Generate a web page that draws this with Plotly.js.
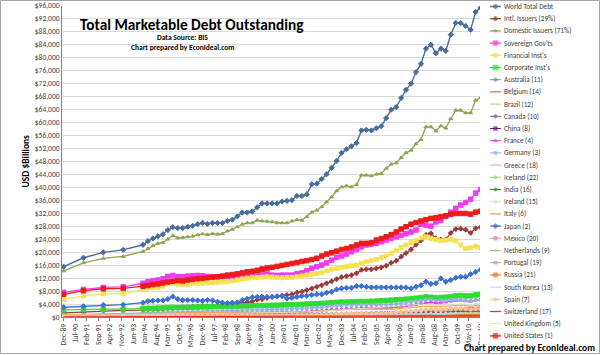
<!DOCTYPE html>
<html><head><meta charset="utf-8">
<script src="https://cdn.plot.ly/plotly-3.0.1.min.js"></script>
<style>html,body{margin:0;padding:0;background:#fff}</style>
</head><body><div id="chart" style="width:600px;height:355px"></div>
<script>
// ---- DATA (USD $Billions) ----
const dates = ["1989-12","1990-12","1991-12","1992-12",
"1993-12","1994-03","1994-06","1994-09","1994-12","1995-03","1995-06","1995-09","1995-12",
"1996-03","1996-06","1996-09","1996-12","1997-03","1997-06","1997-09","1997-12",
"1998-03","1998-06","1998-09","1998-12","1999-03","1999-06","1999-09","1999-12",
"2000-03","2000-06","2000-09","2000-12","2001-03","2001-06","2001-09","2001-12",
"2002-03","2002-06","2002-09","2002-12","2003-03","2003-06","2003-09","2003-12",
"2004-03","2004-06","2004-09","2004-12","2005-03","2005-06","2005-09","2005-12",
"2006-03","2006-06","2006-09","2006-12","2007-03","2007-06","2007-09","2007-12",
"2008-03","2008-06","2008-09","2008-12","2009-03","2009-06","2009-09","2009-12",
"2010-03","2010-06","2010-09","2010-12"];

const tickDates = ["1989-12","1990-07","1991-02","1991-09","1992-04","1992-11","1993-06","1994-01","1994-08","1995-03","1995-10","1996-05","1996-12","1997-07","1998-02","1998-09","1999-04","1999-11","2000-06","2001-01","2001-08","2002-03","2002-10","2003-05","2003-12","2004-07","2005-02","2005-09","2006-04","2006-11","2007-06","2008-01","2008-08","2009-03","2009-10","2010-05","2010-12"];

const worldTotal = [15500,18250,19900,20700,
22250,23400,24200,24900,25500,26800,27700,27400,27400,27800,28100,28600,
29000,28700,29000,29000,29000,29600,30000,31000,32200,32200,32500,33800,
35000,35000,35000,35000,35600,35800,36000,37300,37300,37800,40900,41100,
42500,44000,46000,48100,50600,51700,52600,53600,57500,57700,57500,58200,
58800,61300,63900,64700,67500,70000,71900,75500,78000,82700,83900,81300,
82700,82000,87000,90600,90600,89700,88500,94000,95300];
const intlIssuers = [1300,1550,1850,2050,
2100,2300,2300,2300,2500,2700,2700,2900,2950,3000,3100,3200,
3300,3300,3400,3500,3500,3600,3800,4000,4200,4500,4800,5300,
5500,5900,6200,6300,6500,6800,7000,7500,7800,8300,8800,9300,
9800,10400,11000,11700,12300,12600,12900,13500,14500,14700,14700,15000,
15300,15800,16700,17300,18600,19700,20800,22300,23600,25300,25800,24300,
23900,23900,25900,27100,27200,26900,25900,27300,27700];
const domesticIssuers = [14200,16700,18050,18650,
20200,21100,22000,22700,22900,24000,25100,24400,24500,24700,24900,25300,
25600,25400,25700,25500,25700,26500,27000,27800,28600,29000,29000,29800,
29600,29500,29300,29000,29000,29000,29600,30000,29800,30900,32300,32900,
34000,35500,37000,38900,40100,40400,40100,40800,43700,43700,43500,44000,
44200,45800,47100,47500,49100,50600,51400,53400,54700,58600,58600,57300,
58900,58200,61100,63700,63700,62900,62900,66800,67600];
const sovereignGovts = [7600,8500,9100,9300,
10400,10900,11200,11400,11800,12500,12800,12400,12400,12600,12700,12800,
12700,12500,12400,12400,12500,12400,12400,12600,12900,13000,13100,13300,
13400,13400,12900,12800,12900,12900,12900,13300,13600,14300,15000,15500,
16000,16700,17500,18400,18800,19400,20100,20800,21600,22200,22500,22700,
23200,23700,24200,24700,25200,25700,26200,26800,28600,28300,28000,29300,
29800,31000,32300,33500,34500,35300,36300,38200,39300];
const financialInsts = [5400,6500,7100,7100,
8500,8900,9100,9100,9500,10200,10400,10100,10000,10100,10300,10400,
10400,10500,10600,10700,10800,10900,11100,11400,11700,11900,12100,12200,
12300,12400,12300,12100,12100,12200,12200,12400,12600,12900,13200,13400,
13600,14200,14700,15000,15300,15500,15800,16000,16500,17000,17500,17700,
18400,18800,19600,20600,21400,22200,22900,23500,24400,24700,24200,23900,
23500,23700,23900,23500,22200,21100,21300,21800,21400];
const corporateInsts = [2200,2400,2400,2400,
2600,2700,2700,2750,2800,2900,2950,2900,2950,3000,3000,3050,
3100,3100,3150,3200,3200,3250,3300,3300,3400,3400,3450,3500,
3500,3550,3600,3650,3700,3750,3800,3850,3900,4000,4050,4100,
4200,4300,4400,4500,4600,4600,4650,4700,4800,4800,4850,4900,
5000,5100,5200,5300,5400,5500,5600,5800,6000,6200,6100,5900,
6000,6100,6300,6500,6600,6500,6500,6800,6900];
const australia = [120,130,140,150,
160,170,170,180,180,190,190,190,200,200,210,210,
210,220,220,230,230,230,220,220,230,240,250,260,
270,280,270,270,260,260,260,270,280,300,320,340,
360,390,420,450,480,500,510,520,560,580,590,600,
620,650,700,750,820,900,960,1020,1100,1150,1100,900,
880,1000,1150,1300,1400,1400,1350,1500,1600];
const belgium = [150,170,180,190,
200,210,210,220,230,240,250,250,260,260,270,270,
260,260,260,260,260,270,280,280,280,280,280,280,
280,280,270,260,260,270,270,270,280,300,320,340,
360,380,400,420,440,450,450,450,470,460,450,450,
440,450,460,470,490,510,530,550,580,620,630,590,
620,620,650,680,680,640,600,630,620];
const brazil = [40,60,80,100,
120,140,160,180,200,220,240,250,260,270,280,290,
300,310,320,330,340,350,360,370,300,320,340,360,
380,400,400,380,370,350,340,320,300,280,260,250,
260,300,330,360,380,400,420,440,480,520,560,600,
640,680,720,780,850,920,1000,1100,1200,1300,1250,1000,
1000,1100,1250,1350,1400,1400,1350,1450,1500];
const canada = [450,480,500,520,
540,550,560,570,580,600,610,610,620,630,640,640,
650,650,660,660,670,670,660,650,650,660,670,680,
690,690,700,700,700,710,710,720,720,740,760,780,
800,840,880,920,960,980,1000,1020,1050,1060,1080,1100,
1120,1150,1180,1200,1250,1300,1350,1400,1500,1550,1550,1350,
1300,1400,1600,1750,1800,1750,1700,1850,1900];
const china = [30,40,50,70,
90,100,110,120,130,140,150,160,170,180,190,200,
210,220,230,240,250,260,270,280,290,300,310,320,
330,340,350,360,370,380,390,400,420,440,460,480,
500,520,540,560,600,650,700,750,800,850,900,950,
1000,1050,1100,1150,1200,1250,1300,1400,1500,1650,1800,1900,
2000,2100,2150,2200,2250,2300,2350,2400,2500];
const france = [450,550,600,650,
700,750,780,800,850,900,950,920,950,980,1000,1020,
1000,1000,1020,1050,1100,1150,1200,1250,1300,1300,1300,1300,
1300,1300,1300,1300,1350,1400,1400,1450,1550,1650,1800,1900,
2000,2150,2300,2400,2500,2600,2600,2600,2800,2800,2800,2800,
2800,2900,3000,3100,3300,3500,3700,3900,4200,4500,4600,4400,
4500,4600,4900,5100,5200,5000,4800,5200,5300];
const germany = [650,800,900,1000,
1100,1150,1200,1250,1350,1450,1500,1500,1550,1600,1600,1650,
1600,1650,1700,1750,1850,1950,2000,2050,2150,2150,2200,2250,
2200,2250,2300,2350,2400,2450,2450,2500,2600,2700,2800,2900,
3000,3200,3400,3500,3600,3700,3700,3700,3800,3700,3800,3800,
3700,3800,3900,4000,4200,4400,4600,4800,5000,5300,5400,5100,
5100,5000,5300,5400,5300,5100,4900,5200,5300];
const greece = [30,40,50,60,
70,75,80,85,90,95,100,100,105,110,110,115,
120,120,125,125,130,130,135,135,140,140,140,145,
145,145,140,140,140,145,145,150,155,160,170,180,
190,200,215,225,235,245,250,255,265,265,265,265,
265,270,280,290,305,320,335,350,370,390,390,370,
380,390,410,420,420,400,380,380,360];
const iceland = [2,3,3,4,
4,4,4,5,5,5,5,5,5,6,6,6,
6,6,7,7,7,8,8,8,8,9,9,9,
10,10,10,11,11,11,12,12,13,14,15,16,
17,19,21,23,25,27,30,32,35,38,40,42,
45,48,52,56,60,64,66,68,70,60,40,20,
20,20,20,20,20,20,20,20,20];
const india = [40,45,50,55,
60,62,64,66,68,70,70,70,72,72,74,76,
78,80,82,84,86,88,90,92,95,98,100,104,
108,112,116,120,124,128,132,136,140,150,160,170,
180,190,200,210,220,230,240,250,260,270,280,290,
300,310,320,330,340,360,380,400,430,460,450,400,
410,430,460,490,520,540,550,580,600];
const ireland = [30,35,40,45,
50,50,55,55,60,60,60,60,65,65,70,70,
70,75,75,80,80,85,90,95,100,110,120,130,
140,150,160,170,180,190,200,210,220,230,250,270,
290,310,330,350,380,400,420,450,490,520,560,600,
640,680,720,760,800,840,880,920,960,1000,1000,950,
950,980,1000,1020,1000,950,900,920,900];
const italy = [700,800,900,1000,
1100,1150,1200,1200,1250,1300,1350,1350,1400,1450,1500,1500,
1500,1450,1450,1400,1450,1500,1550,1550,1550,1500,1500,1450,
1450,1400,1400,1400,1400,1450,1450,1450,1500,1600,1750,1850,
1950,2050,2200,2250,2350,2450,2450,2400,2550,2500,2450,2400,
2350,2400,2450,2500,2650,2750,2850,2950,3100,3300,3300,3100,
3200,3300,3500,3600,3700,3500,3300,3500,3500];
const japan = [3000,3300,3700,3800,
4400,4900,5000,5100,5100,5500,6300,5500,5200,5200,5200,5100,
5000,5200,5100,4700,4400,4300,4400,4500,5200,5600,6100,6200,
6300,6200,6200,6400,6500,5700,5900,6200,6500,6500,6800,7000,
7000,7500,7800,8500,8800,9000,9000,9500,9500,9300,9100,9100,
9100,9100,9100,9100,9100,9100,8800,9300,9800,10900,10200,10400,
11900,10900,11400,12100,12400,12400,13200,13900,14600];
const mexico = [40,45,50,60,
70,72,60,62,60,50,55,58,60,62,65,68,
70,72,75,78,80,82,80,78,80,85,90,95,
100,105,110,115,120,125,130,135,140,140,140,145,
150,155,160,165,170,175,180,185,190,195,200,210,
220,230,240,250,260,270,280,290,300,310,300,260,
260,280,300,320,330,330,320,340,350];
const netherlands = [150,170,190,200,
220,230,240,250,260,280,290,290,300,310,320,330,
330,340,350,360,380,400,420,440,460,480,500,520,
540,560,580,600,620,640,660,680,720,760,800,840,
880,930,980,1020,1080,1120,1150,1160,1200,1230,1240,1250,
1250,1300,1350,1400,1500,1600,1700,1800,1900,2000,2050,1900,
2000,2050,2150,2250,2300,2200,2100,2250,2250];
const portugal = [20,25,30,35,
40,42,44,46,48,50,52,52,54,56,58,60,
62,64,66,68,70,72,74,76,78,80,82,84,
86,88,90,90,92,94,96,98,100,105,110,120,
130,140,150,160,170,180,185,190,200,200,200,200,
200,205,210,215,225,235,245,255,270,285,285,270,
280,290,300,310,310,300,290,300,290];
const russia = [5,5,5,10,
10,12,15,18,20,22,25,28,30,35,40,45,
50,55,60,65,70,70,50,30,30,30,30,30,
30,30,30,30,35,35,35,35,35,35,35,40,
40,40,45,45,50,50,55,55,60,60,65,65,
70,75,80,85,90,95,100,105,110,115,110,90,
90,95,100,105,110,110,110,120,130];
const southKorea = [60,70,80,90,
100,110,120,130,140,150,160,170,180,190,200,210,
220,230,240,250,260,240,200,180,200,220,240,250,
260,270,270,270,270,280,280,290,300,320,340,360,
380,400,420,440,460,480,500,520,560,600,630,650,
680,700,730,760,800,850,880,900,950,950,900,700,
700,800,900,1000,1050,1050,1000,1100,1150];
const spain = [200,230,260,280,
300,320,320,330,340,360,380,380,390,400,410,420,
420,420,430,430,450,470,480,490,500,500,500,490,
480,480,470,470,480,500,500,510,530,560,600,640,
680,730,780,820,880,920,930,950,1000,1010,1020,1050,
1080,1150,1250,1350,1500,1650,1800,1950,2100,2300,2400,2300,
2300,2400,2600,2700,2700,2600,2400,2600,2600];
const switzerland = [80,90,100,105,
110,115,120,120,125,130,135,130,130,130,130,128,
125,122,120,118,120,122,125,128,130,130,130,128,
125,122,120,118,118,120,122,125,130,135,140,145,
150,160,170,175,180,185,185,185,190,190,190,190,
190,195,200,210,220,230,240,250,260,270,270,260,
270,280,290,300,310,300,310,330,340];
const unitedKingdom = [500,550,600,620,
650,700,720,740,780,820,850,860,880,900,920,950,
980,1000,1020,1050,1080,1100,1120,1150,1200,1220,1250,1250,
1280,1300,1300,1320,1350,1380,1400,1450,1500,1550,1600,1700,
1800,1900,2000,2100,2200,2300,2350,2400,2500,2600,2600,2700,
2800,2900,3000,3200,3400,3600,3800,3900,4000,3800,3700,3400,
3300,3400,3700,3900,4000,3900,3800,4100,4200];
const unitedStates = [7000,8100,8700,8800,
9500,9700,10000,10200,10500,10800,11000,11200,11100,11400,11600,11800,
11900,12100,12300,12400,12600,12900,13100,13300,13600,13900,14100,14400,
14800,15100,15300,15600,15900,16200,16500,16800,17100,17400,17700,18100,
18800,19400,19800,20300,20800,21100,21600,22200,22700,22700,22900,23700,
24200,24700,25400,26200,27100,27800,28600,29100,29600,30000,30400,30600,
30900,31200,31700,31900,31900,31900,31700,32300,32600];

const seriesNames = ["World Total Debt","Intl. Issuers (29%)","Domestic Issuers (71%)","Sovereign Gov'ts","Financial Inst's","Corporate Inst's","Australia (11)","Belgium (14)","Brazil (12)","Canada (10)","China (8)","France (4)","Germany (3)","Greece (18)","Iceland (22)","India (16)","Ireland (15)","Italy (6)","Japan (2)","Mexico (20)","Netherlands (9)","Portugal (19)","Russia (21)","South Korea (13)","Spain (7)","Switzerland (17)","United Kingdom (5)","United States (1)"];
const seriesValues = [worldTotal,intlIssuers,domesticIssuers,sovereignGovts,financialInsts,corporateInsts,australia,belgium,brazil,canada,china,france,germany,greece,iceland,india,ireland,italy,japan,mexico,netherlands,portugal,russia,southKorea,spain,switzerland,unitedKingdom,unitedStates];

// ---- STYLES ----
const styles = [
 {c:"#4A6C9B",s:"diamond",z:4,w:1.4},
 {c:"#9A3B3A",s:"cross",z:3.5,w:1.3},
 {c:"#8DA651",s:"triangle-up",z:3.5,w:1.3},
 {c:"#F03CF0",s:"square",z:4.5,w:1.3},
 {c:"#F6E251",s:"square",z:4,w:1.3},
 {c:"#2FDC2F",s:"square",z:4.5,w:1.3},
 {c:"#6E8EBA",s:"cross",z:3,w:1},
 {c:"#C0504D",s:null,z:0,w:1},
 {c:"#B4C981",s:null,z:0,w:1},
 {c:"#7E66A0",s:"cross",z:3,w:1},
 {c:"#7B1E7B",s:"square",z:3.5,w:1},
 {c:"#E040E0",s:"triangle-up",z:3.5,w:1},
 {c:"#8EB4E3",s:"x",z:3,w:1},
 {c:"#E3A2A0",s:null,z:0,w:1},
 {c:"#A8D08D",s:"circle",z:3,w:1},
 {c:"#3C8A2E",s:"circle",z:3,w:1},
 {c:"#CDEBCB",s:"cross",z:3,w:1},
 {c:"#F7A04A",s:null,z:0,w:1.2},
 {c:"#3E6FD4",s:"diamond",z:4,w:1.3},
 {c:"#D99694",s:"square",z:3.5,w:1},
 {c:"#C4BD97",s:"triangle-up",z:3,w:1},
 {c:"#A6A6A6",s:"x",z:3,w:1},
 {c:"#F07B22",s:"square",z:4,w:1.2},
 {c:"#B9CDE5",s:null,z:0,w:1},
 {c:"#FAC29A",s:"circle",z:3.5,w:1},
 {c:"#E2312B",s:null,z:0,w:1.2},
 {c:"#D7E4BD",s:null,z:0,w:1},
 {c:"#EE1B1B",s:"square",z:4.5,w:1.3}
];

const FONT = "Carlito, 'Liberation Sans Narrow', Lato, sans-serif";
const traces = [];
const annotations = [];
function makeTrace(st, x, y, sizes, xa, ya, name){
  const t = {type:"scatter", mode: st.s ? "lines+markers" : "lines", x:x, y:y,
    showlegend:false, line:{color:st.c,width:st.w}, xaxis:xa, yaxis:ya,
    hoverinfo: name ? "x+y+name" : "skip"};
  if (name) t.name = name;
  if (st.s) t.marker = {symbol:st.s,size:sizes,color:st.c,line:{color:st.c,width:1}};
  return t;
}
seriesNames.forEach((name,i)=>{
  traces.push(makeTrace(styles[i], dates, seriesValues[i], styles[i].z, "x", "y", name));
});
// compact custom legend (item spacing like the original)
seriesNames.forEach((name,i)=>{
  const st = styles[i];
  const ly = 6.5 + i*12.2;
  traces.push(makeTrace(st, [490,495.5,501], [ly,ly,ly], [0,st.z,0], "x2", "y2", null));
  annotations.push({xref:"x2",yref:"y2",x:502,y:ly,text:name,showarrow:false,
    xanchor:"left",yanchor:"middle",font:{family:FONT,size:7.2,color:"#404040"}});
});

annotations.push(
 {xref:"paper",yref:"paper",x:192/600,y:1-24/355,text:"Total Marketable Debt Outstanding",showarrow:false,
  xanchor:"center",yanchor:"middle",font:{family:FONT,size:15.3,color:"#000",weight:"bold"}},
 {xref:"paper",yref:"paper",x:182/600,y:1-37.5/355,text:"Data Source: BIS",showarrow:false,
  xanchor:"center",yanchor:"middle",font:{family:FONT,size:7.5,color:"#000",weight:"bold"}},
 {xref:"paper",yref:"paper",x:182/600,y:1-47/355,text:"Chart prepared by EconIdeal.com",showarrow:false,
  xanchor:"center",yanchor:"middle",font:{family:FONT,size:7.5,color:"#000",weight:"bold"}},
 {xref:"paper",yref:"paper",x:597/600,y:1-348/355,text:"Chart prepared by EconIdeal.com",showarrow:false,
  xanchor:"right",yanchor:"middle",font:{family:FONT,size:9.5,color:"#000",weight:"bold"}}
);

const layout = {
  width:600, height:355,
  margin:{l:0,r:0,t:0,b:0},
  paper_bgcolor:"#fff", plot_bgcolor:"#fff",
  font:{family:FONT,color:"#404040"},
  xaxis:{type:"date",domain:[62/600,483/600],anchor:"y",range:["1989-11-01","2011-01-15"],
    tickvals:tickDates,tickformat:"%b-%y",tickangle:-90,tickfont:{size:7.5,color:"#404040"},
    showgrid:false,showline:true,linecolor:"#868686",ticks:"outside",ticklen:3,tickcolor:"#868686",zeroline:false},
  yaxis:{domain:[38/355,1-5.5/355],anchor:"x",range:[0,96000],dtick:4000,tickprefix:"$",tickformat:",.0f",
    tickfont:{size:7.5,color:"#404040"},gridcolor:"#D9D9D9",gridwidth:1,showline:true,linecolor:"#868686",zeroline:false,
    title:{text:"USD $Billions",font:{family:FONT,size:9.5,color:"#000",weight:"bold"},standoff:3}},
  xaxis2:{domain:[480/600,1],anchor:"y2",range:[480,600],visible:false,fixedrange:true},
  yaxis2:{domain:[0,1],anchor:"x2",range:[355,0],visible:false,fixedrange:true},
  annotations:annotations,
  shapes:[{type:"rect",xref:"paper",yref:"paper",x0:0.5/600,x1:599.5/600,y0:1-353.5/355,y1:1-0.5/355,
    line:{color:"#A6A6A6",width:1}}],
  showlegend:false
};
Plotly.newPlot("chart",traces,layout,{displayModeBar:false,staticPlot:true});
</script></body></html>
